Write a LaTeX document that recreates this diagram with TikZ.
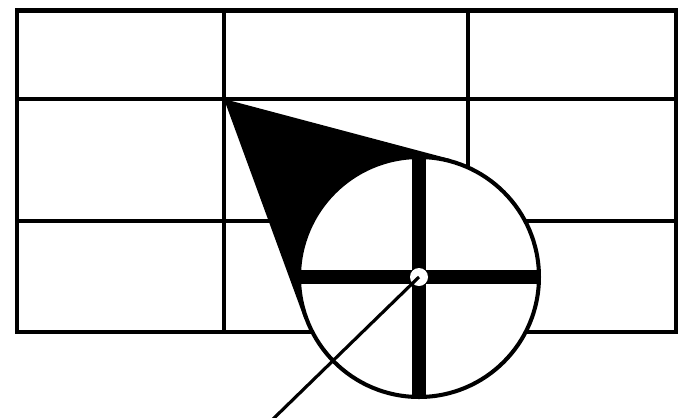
\documentclass[tikz,border=0pt]{standalone}
\usetikzlibrary{calc, backgrounds}

\begin{document}
\begin{tikzpicture}[
    x=0.02cm, y=-0.02cm,
    gridline/.style={line width=2.6pt},
    crossbar/.style={line width=8.5pt},
    pointer/.style={line width=1.8pt}
]
\useasboundingbox (0,0) rectangle (686,417);

% Grid of cells
\coordinate (nw) at (17,10.5);
\coordinate (se) at (676,332);
\draw[gridline] (nw) rectangle (se);
\draw[gridline] (224,10.5) -- (224,332);
\draw[gridline] (468,10.5) -- (468,332);
\draw[gridline] (17,99) -- (676,99);
\draw[gridline] (17,221) -- (676,221);

% Magnifier lens
\coordinate (apex) at (224,99);
\node[draw, circle, fill=white, line width=2.3pt, minimum size=4.8cm, inner sep=0pt] (lens) at (419,277) {};

% Black wedge from the grid corner to the lens
\begin{scope}[on background layer]
    \fill (apex) -- (tangent cs:node=lens,point={(apex)},solution=1)
        -- (lens.center) -- (tangent cs:node=lens,point={(apex)},solution=2) -- cycle;
\end{scope}

% Crosshair
\begin{scope}
    \clip (lens.center) circle (119);
    \draw[crossbar] (lens.west) -- (lens.east);
    \draw[crossbar] (lens.north) -- (lens.south);
\end{scope}
\node[circle, fill=white, minimum size=0.36cm, inner sep=0pt] (hub) at (lens.center) {};

% Pointer line
\coordinate (tail) at (272,420);
\draw[pointer] (hub.center) -- (tail);

\end{tikzpicture}
\end{document}
